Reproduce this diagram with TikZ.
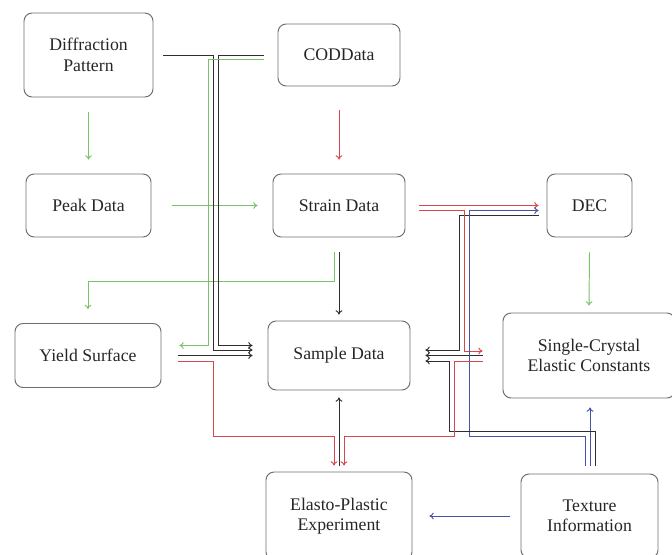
\documentclass[tikz,border=0pt]{standalone}
\usepackage{fontspec}
\setmainfont{Liberation Serif}
\usetikzlibrary{calc,arrows.meta}
\definecolor{fl-green}{HTML}{7AC267}
\definecolor{fl-red}{HTML}{D8474A}
\definecolor{fl-blue}{HTML}{4652A6}
\definecolor{fl-black}{HTML}{2E2E2E}
\definecolor{fl-frame}{HTML}{6E6E6E}
\def\pxu{0.62pt}

\begin{document}
\begin{tikzpicture}[x=0.62pt, y=-0.62pt, >={To[length=2.6pt,width=4.2pt]},
    stage/.style={draw=fl-frame, line width=0.6pt, rounded corners=5pt, align=center, text=black!85,
      font=\fontsize{11}{12.6}\selectfont},
    boxsize/.style 2 args={minimum width=#1*\pxu, minimum height=#2*\pxu},
    gline/.style={fl-green, line width=0.6pt, ->},
    rline/.style={fl-red, line width=0.6pt, ->},
    bline/.style={fl-blue, line width=0.6pt, ->},
    kline/.style={fl-black, line width=0.6pt, ->}]
    \clip (0,0) rectangle (672,555);
    \useasboundingbox (0,0) rectangle (672,555);

    % Boxes
    \node[stage, boxsize={129}{84}] (diff) at (88.5,55) {Diffraction\\Pattern};
    \node[stage, boxsize={122}{62}] (cod) at (339,55) {CODData};
    \node[stage, boxsize={125}{63}] (peak) at (88.5,205.5) {Peak Data};
    \node[stage, boxsize={132}{63}] (strain) at (339,205.5) {Strain Data};
    \node[stage, boxsize={85}{63}] (dec) at (589.5,205.5) {DEC};
    \node[stage, boxsize={146}{64}] (yield) at (88,355.5) {Yield Surface};
    \node[stage, boxsize={142}{69}] (sample) at (339,355.5) {Sample Data};
    \node[stage, boxsize={172}{85}] (scec) at (589,355.5) {Single-Crystal\\Elastic Constants};
    \node[stage, boxsize={146}{88}] (elasto) at (339,516) {Elasto-Plastic\\Experiment};
    \node[stage, boxsize={137}{84}] (texture) at (589.5,516) {Texture\\Information};

    % Straight connectors
    \draw[gline] ($(diff.south)+(0,15)$) -- ($(peak.north)+(0,-14)$);
    \draw[rline] ($(cod.south)+(0,24)$) -- ($(strain.north)+(0,-14)$);
    \draw[gline] ($(peak.east)+(21,0)$) -- ($(strain.west)+(-15,0)$);
    \draw[kline] ($(strain.south)+(0,15)$) -- ($(sample.north)+(0,-6)$);
    \draw[gline] ($(dec.south)+(0,15)$) -- ($(scec.north)+(0,-7)$);
    \draw[rline] ($(strain.east)+(14,0)$) -- ($(dec.west)+(-8,0)$);
    \draw[kline] ($(elasto.north)+(0,-6)$) -- ($(sample.south)+(0,7)$);
    \draw[bline] ($(texture.north)+(0.5,-8)$) -- ($(scec.south)+(1,9)$);
    \draw[bline] ($(texture.west)+(-11,0)$) -- ($(elasto.east)+(17,0)$);
    \draw[kline] ($(yield.east)+(17,0)$) -- ($(sample.west)+(-15,0)$);
    \draw[kline] ($(scec.west)+(-20,0)$) -- ($(sample.east)+(15,0)$);

    % Routed connectors, left side
    \draw[gline] ($(strain.south)+(-5,15)$) |- (88,281) -- ($(yield.north)+(0,-14)$);
    \draw[kline] ($(diff.east)+(10,0)$) -| (213,350) -- ($(sample.west)+(-15,-5.5)$);
    \draw[kline] ($(cod.west)+(-14,0)$) -| (218,345.5) -- ($(sample.west)+(-15,-10)$);
    \draw[gline] ($(cod.west)+(-14,4)$) -| (208,345.5) -- ($(yield.east)+(18,-10)$);
    \draw[rline] ($(yield.east)+(17,6)$) -| (213,436) -| ($(elasto.north)+(-5,-6)$);

    % Routed connectors, right side
    \draw[kline] ($(dec.west)+(-8,10)$) -| (459,350) -- ($(sample.east)+(15,-5.5)$);
    \draw[rline] ($(strain.east)+(14,5)$) -| (464,351) -- ($(scec.west)+(-20,-4.5)$);
    \draw[bline] ($(texture.north)+(-4.5,-8)$) |- (469,436) |- ($(dec.west)+(-8,5)$);
    \draw[kline] ($(texture.north)+(5.5,-8)$) |- (449,431) |- ($(sample.east)+(15,5.5)$);
    \draw[rline] ($(scec.west)+(-20,5.5)$) -| (454,436) -| ($(elasto.north)+(5,-6)$);
\end{tikzpicture}
\end{document}
